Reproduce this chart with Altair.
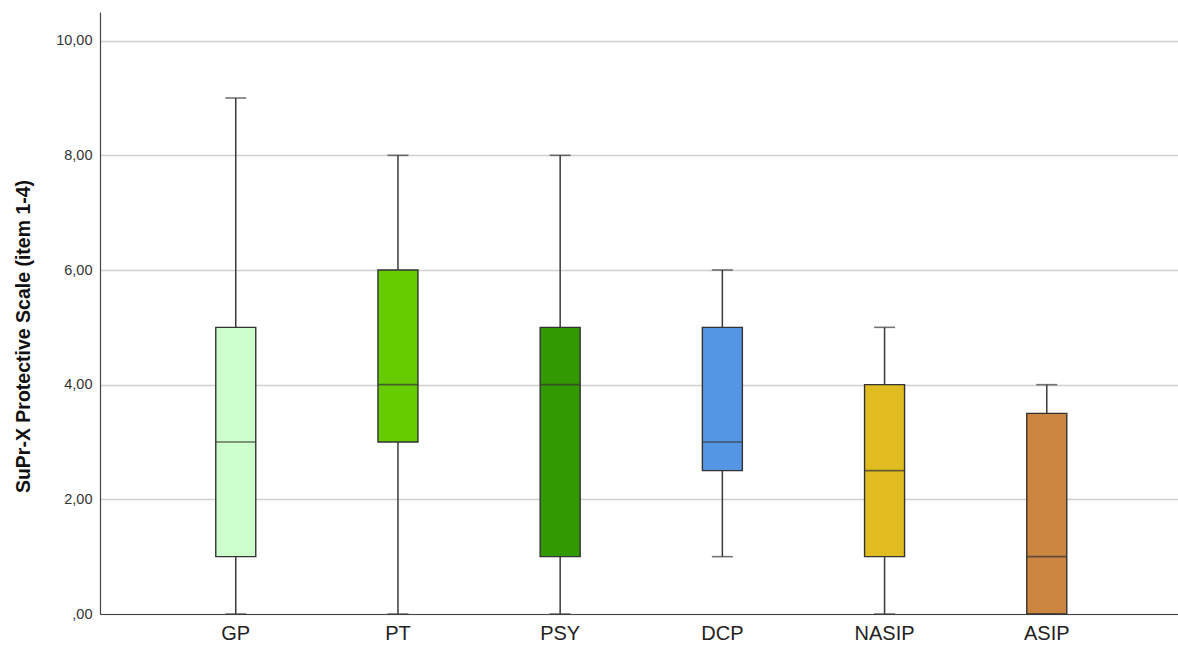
import altair as alt
import pandas as pd

# Box-plot summaries per group (five-number summary)
groups = ["GP", "PT", "PSY", "DCP", "NASIP", "ASIP"]
whisker_low = [0, 0, 0, 1, 0, 0]
q1 = [1, 3, 1, 2.5, 1, 0]
median = [3, 4, 4, 3, 2.5, 1]
q3 = [5, 6, 5, 5, 4, 3.5]
whisker_high = [9, 8, 8, 6, 5, 4]
colors = ["#CCFFCC", "#66CC00", "#339900", "#5596E4", "#E0BC20", "#CC8640"]

df = pd.DataFrame({
    "group": groups,
    "lo": whisker_low,
    "q1": q1,
    "med": median,
    "q3": q3,
    "hi": whisker_high,
})

font = "Liberation Sans"

x = alt.X(
    "group:N",
    sort=groups,
    title=None,
    scale=alt.Scale(paddingInner=0.75, paddingOuter=0.698, align=0.51),
    axis=alt.Axis(
        labelAngle=0, ticks=False, domain=True, domainColor="#444444",
        domainWidth=1.2, labelFont=font, labelFontSize=20,
        labelColor="#222222", labelPadding=9, grid=False,
    ),
)

y_scale = alt.Scale(domain=[0, 10.5], nice=False, zero=True)
y_axis = alt.Axis(
    values=[0, 2, 4, 6, 8, 10],
    labelExpr="datum.value == 0 ? ',00' : replace(format(datum.value, '.2f'), '.', ',')",
    ticks=False, domainColor="#444444", domainWidth=1.2,
    grid=True, gridColor="#CFCFCF", gridWidth=1.5,
    labelFont=font, labelFontSize=14.5, labelColor="#333333", labelPadding=8,
    title="SuPr-X Protective Scale (item 1-4)",
    titleFont=font, titleFontSize=19.5, titleFontWeight="bold",
    titleColor="#111111", titlePadding=22,
    titleY=324, titleAlign="center",
)

base = alt.Chart(df)

whiskers = base.mark_rule(color="#3A3A3A", strokeWidth=1.5).encode(
    x=x,
    y=alt.Y("lo:Q", scale=y_scale, axis=y_axis),
    y2="hi:Q",
)

boxes = base.mark_bar(size=40, stroke="#333333", strokeWidth=1.4).encode(
    x=x,
    y=alt.Y("q1:Q", scale=y_scale),
    y2="q3:Q",
    color=alt.Color("group:N", sort=groups,
                    scale=alt.Scale(domain=groups, range=colors), legend=None),
)

medians = base.mark_tick(size=40, thickness=1.6, color="#333333").encode(
    x=x, y=alt.Y("med:Q", scale=y_scale),
)

caps_hi = base.mark_tick(size=21, thickness=1.6, color="#3A3A3A").encode(
    x=x, y=alt.Y("hi:Q", scale=y_scale),
)
caps_lo = base.mark_tick(size=21, thickness=1.6, color="#3A3A3A").encode(
    x=x, y=alt.Y("lo:Q", scale=y_scale),
)

chart = (
    alt.layer(whiskers, boxes, medians, caps_hi, caps_lo)
    .properties(
        width=1078, height=602,
        autosize=alt.AutoSizeParams(type="none"),
        padding={"left": 100, "top": 12, "right": 0, "bottom": 34},
        background="white",
    )
    .configure_view(stroke=None)
)

chart.save("out.html", embed_options={"renderer": "svg", "actions": False})
